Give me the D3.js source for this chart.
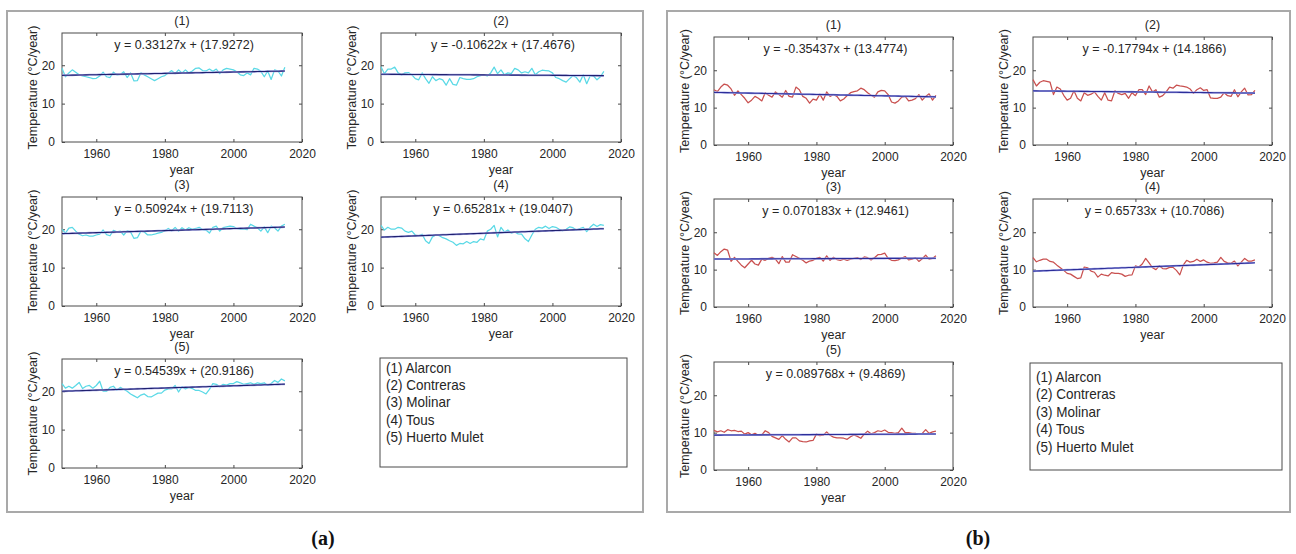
<!DOCTYPE html>
<html>
<head>
<meta charset="utf-8">
<script src="https://cdn.jsdelivr.net/npm/d3@7"></script>
<style>
  html, body { margin: 0; padding: 0; background: #fff; }
  svg { display: block; }
  text { font-family: "Liberation Sans", Arial, sans-serif; fill: #262626; }
</style>
</head>
<body>
<svg id="chart" width="1296" height="554"></svg>
<script>
// Annual temperature series 1950-2015 for five stations, two panels.
const firstYear = 1950;
const lastYear = 2015;
const stations = ["Alarcon", "Contreras", "Molinar", "Tous", "Huerto Mulet"];
const xTicks = [1960, 1980, 2000, 2020];
const yTicks = [0, 10, 20];

// Panel (a)
const aAlarcon = [19.2,17.0,18.0,18.8,18.2,17.5,17.2,17.0,16.8,16.5,16.6,17.2,18.2,17.0,16.8,18.2,17.5,17.6,18.3,16.8,18.0,15.9,16.0,18.0,17.5,17.0,16.5,16.0,16.5,17.0,17.3,18.0,18.6,17.8,18.8,18.0,18.8,18.0,18.5,19.2,19.3,18.6,18.5,19.0,18.4,19.0,17.8,18.8,19.2,19.0,18.8,18.3,17.5,17.3,18.0,17.5,19.2,19.0,18.4,17.0,18.5,16.3,18.8,18.5,17.2,19.5];
const aContreras = [19.6,17.8,19.0,19.0,19.5,18.0,17.5,18.0,18.1,17.5,16.5,16.2,18.0,16.5,15.3,17.0,16.0,16.5,16.2,14.8,16.5,15.0,14.8,16.8,16.5,16.3,16.3,16.5,17.0,17.3,17.5,17.2,18.0,19.5,17.8,18.8,17.5,18.0,17.8,19.2,18.8,18.0,18.3,18.0,19.2,17.5,18.3,18.7,18.6,18.5,18.0,16.8,16.5,16.0,15.6,16.5,17.3,16.8,15.6,17.5,15.2,17.2,17.2,16.2,17.0,18.4];
const aMolinar = [20.0,19.0,20.3,20.5,19.5,18.7,18.3,18.5,18.2,18.2,18.5,18.7,19.8,18.6,18.3,19.7,19.3,19.5,18.5,19.6,19.3,17.6,17.8,19.5,19.3,18.5,18.5,18.7,19.0,19.2,19.6,20.2,19.6,20.5,19.5,20.4,19.8,20.4,20.0,20.2,20.5,19.9,19.8,19.0,20.5,20.8,19.5,20.4,20.6,20.8,20.7,20.2,20.0,20.1,19.9,21.3,20.8,20.4,19.5,20.6,19.1,20.8,20.4,19.5,20.8,21.3];
const aTous = [21.0,19.8,20.5,20.0,20.0,20.5,20.3,19.5,19.2,19.5,18.5,18.3,18.7,17.0,16.3,18.0,18.5,18.3,17.8,17.5,17.0,16.6,15.8,16.3,16.2,16.8,16.3,16.8,16.6,17.5,17.2,19.5,20.0,21.0,18.0,20.5,19.3,19.8,19.0,19.3,18.8,18.7,17.5,16.8,18.5,20.0,20.5,20.3,20.8,20.2,20.7,20.5,20.0,19.6,20.0,20.6,20.4,19.8,20.2,20.5,19.4,20.5,21.3,20.7,21.2,21.0];
const aHuertoMulet = [22.0,20.8,21.3,20.8,21.5,22.3,20.7,21.3,21.5,20.8,21.5,22.6,20.0,20.0,21.0,21.3,20.3,21.0,20.5,20.0,19.3,18.8,18.3,19.0,19.3,18.6,18.5,19.0,19.5,19.5,20.3,20.6,20.6,21.5,19.8,21.2,20.6,21.0,20.7,20.2,20.2,19.8,19.3,20.5,22.0,21.8,21.2,21.8,21.6,22.0,22.0,22.5,22.2,21.8,22.0,22.2,21.8,22.2,22.0,22.2,21.5,22.0,22.8,22.3,23.2,22.7];
const aSlopes = [0.33127, -0.10622, 0.50924, 0.65281, 0.54539];
const aIntercepts = [17.9272, 17.4676, 19.7113, 19.0407, 20.9186];

// Panel (b)
const bAlarcon = [14.8,14.3,15.5,16.3,16.0,15.0,13.3,14.5,13.5,12.5,11.3,12.0,13.0,12.5,11.8,14.0,13.3,12.8,14.2,13.5,12.8,14.6,13.0,12.8,15.5,14.8,13.0,12.5,11.2,12.3,12.0,13.6,12.0,14.2,13.0,13.5,13.0,11.8,12.3,13.2,14.0,14.3,14.5,15.2,14.8,14.0,13.3,12.8,14.2,14.6,14.5,13.5,11.5,11.2,11.8,12.8,13.0,11.8,12.0,12.4,13.5,12.0,13.0,13.7,12.0,13.3];
const bContreras = [17.5,15.8,16.8,17.2,17.0,16.8,13.5,15.5,15.0,13.3,12.0,12.5,14.5,12.5,11.8,14.0,13.3,13.6,14.2,13.0,12.0,14.0,12.0,11.8,14.5,13.8,13.5,13.8,12.5,14.0,13.2,14.8,14.8,13.5,15.8,14.2,14.8,12.8,13.2,14.2,15.5,15.2,16.0,15.8,15.7,15.5,15.0,13.8,14.8,15.3,14.6,14.8,12.6,12.5,12.5,12.8,14.0,13.2,13.0,14.8,12.9,14.2,15.2,13.4,13.5,14.6];
const bMolinar = [14.5,13.8,14.8,15.5,15.2,12.2,13.3,12.2,11.2,10.5,11.5,12.5,11.5,11.2,12.8,12.5,13.0,13.3,12.8,11.6,13.5,12.0,12.0,14.0,13.5,13.0,12.5,11.8,12.3,12.5,13.0,13.3,12.3,13.7,12.5,13.3,12.7,12.5,12.8,12.5,12.8,13.0,13.2,12.7,13.4,13.2,12.6,13.2,14.0,14.1,14.4,13.0,12.5,12.4,12.6,13.1,13.5,12.6,12.8,13.2,12.2,12.9,13.9,12.8,13.0,13.7];
const bTous = [13.2,12.1,12.5,12.8,12.8,12.2,12.0,11.2,10.5,9.8,9.0,8.8,8.2,7.6,7.8,10.7,10.5,9.6,9.3,8.0,8.8,8.5,8.3,9.2,9.0,9.0,8.8,8.2,8.5,8.6,11.0,10.7,11.5,13.0,11.8,10.5,10.0,11.0,10.3,10.2,10.6,10.6,9.8,8.6,11.2,12.5,12.0,12.2,12.8,12.2,12.6,12.0,11.7,11.8,12.0,13.3,12.2,11.8,11.7,12.3,11.0,12.0,13.0,12.3,12.3,12.6];
const bHuertoMulet = [10.6,10.2,10.5,10.1,10.8,10.5,10.6,10.3,10.4,9.6,10.0,9.4,9.8,9.3,9.4,10.5,10.0,9.0,8.6,8.2,9.2,8.2,7.5,8.6,8.6,7.8,7.6,7.5,7.8,7.9,9.6,9.2,9.3,10.2,9.3,8.8,8.6,8.6,8.5,8.2,8.9,9.4,9.0,8.5,9.6,10.4,9.7,10.0,10.5,10.3,10.7,10.1,10.0,9.8,10.0,11.2,10.0,10.0,9.8,9.8,9.5,9.8,10.8,9.8,10.2,10.4];
const bSlopes = [-0.35437, -0.17794, 0.070183, 0.65733, 0.089768];
const bIntercepts = [13.4774, 14.1866, 12.9461, 10.7086, 9.4869];

const years = d3.range(firstYear, lastYear + 1);
const yearMean = d3.mean(years);
const yearStd = d3.deviation(years);

const panels = [
  {
    tag: "(a)", tagX: 323,
    box: [7, 11, 643, 512],
    cols: [62, 381], plotW: 240,
    rows: [33, 197, 359], plotH: 109,
    yMax: 28.4,
    series: [aAlarcon, aContreras, aMolinar, aTous, aHuertoMulet],
    slopes: aSlopes, intercepts: aIntercepts,
    color: "#5ad9e6",
    trendColor: "#202070",
    legend: { x0: 380, y0: 358, x1: 627, y1: 467, tx: 386, ty: 373, step: 17.2 }
  },
  {
    tag: "(b)", tagX: 978,
    box: [667, 11, 1290, 512],
    cols: [714, 1033], plotW: 239,
    rows: [37, 199, 362], plotH: 108,
    yMax: 28.9,
    series: [bAlarcon, bContreras, bMolinar, bTous, bHuertoMulet],
    slopes: bSlopes, intercepts: bIntercepts,
    color: "#c9504f",
    trendColor: "#2c2e9a",
    legend: { x0: 1030, y0: 363, x1: 1282, y1: 470, tx: 1036, ty: 382, step: 17.5 }
  }
];

const svg = d3.select("#chart");

panels.forEach(p => {
  // outer frame of the panel
  svg.append("rect")
    .attr("x", p.box[0]).attr("y", p.box[1])
    .attr("width", p.box[2] - p.box[0]).attr("height", p.box[3] - p.box[1])
    .attr("fill", "none").attr("stroke", "#a9a9a9").attr("stroke-width", 2);

  svg.append("text")
    .attr("x", p.tagX).attr("y", 545)
    .attr("text-anchor", "middle")
    .style("font-family", "'Liberation Serif', 'DejaVu Serif', serif")
    .style("font-weight", "bold").style("font-size", "20px").style("fill", "#111")
    .text(p.tag);

  p.series.forEach((vals, i) => {
    const left = p.cols[i % 2];
    const top = p.rows[Math.floor(i / 2)];
    const x = d3.scaleLinear().domain([1950, 2020]).range([left, left + p.plotW]);
    const y = d3.scaleLinear().domain([0, p.yMax]).range([top + p.plotH, top]);
    const g = svg.append("g");
    const cx = left + p.plotW / 2;

    // axes box
    g.append("rect")
      .attr("x", left).attr("y", top).attr("width", p.plotW).attr("height", p.plotH)
      .attr("fill", "#fff").attr("stroke", "#4a4a4a").attr("stroke-width", 1);

    // inward ticks on all four sides
    const xb = d3.axisBottom(x).tickValues(xTicks).tickSize(-3).tickFormat(d3.format("d")).tickPadding(7);
    const xt = d3.axisTop(x).tickValues(xTicks).tickSize(-3).tickFormat("");
    const yl = d3.axisLeft(y).tickValues(yTicks).tickSize(-3).tickPadding(7);
    const yr = d3.axisRight(y).tickValues(yTicks).tickSize(-3).tickFormat("");
    [[xb, `translate(0,${top + p.plotH})`], [xt, `translate(0,${top})`],
     [yl, `translate(${left},0)`], [yr, `translate(${left + p.plotW},0)`]].forEach(([ax, tr]) => {
      const a = g.append("g").attr("transform", tr).call(ax);
      a.select(".domain").remove();
      a.selectAll("line").attr("stroke", "#4a4a4a");
      a.selectAll("text").style("font-size", "12px").style("fill", "#262626")
        .style("font-family", "'Liberation Sans', Arial, sans-serif");
    });

    // series line
    const line = d3.line().x((d, k) => x(years[k])).y(d => y(d));
    g.append("path").datum(vals)
      .attr("fill", "none").attr("stroke", p.color).attr("stroke-width", 1.25)
      .attr("stroke-linejoin", "round").attr("d", line);

    // fitted trend on the standardised year
    const trend = years.map(yr => ({ yr, v: p.slopes[i] * (yr - yearMean) / yearStd + p.intercepts[i] }));
    const tline = d3.line().x(d => x(d.yr)).y(d => y(d.v));
    g.append("path").datum(trend)
      .attr("fill", "none").attr("stroke", "#a7abe8").attr("stroke-width", 2).attr("d", tline);
    g.append("path").datum(trend)
      .attr("fill", "none").attr("stroke", p.trendColor).attr("stroke-width", 1.1).attr("d", tline);

    // title, equation, axis labels
    g.append("text").attr("x", cx).attr("y", top - 8).attr("text-anchor", "middle")
      .style("font-size", "12.5px").text(`(${i + 1})`);
    g.append("text").attr("x", cx + 2).attr("y", top + 16).attr("text-anchor", "middle")
      .style("font-size", "12.5px").text(`y = ${p.slopes[i]}x + (${p.intercepts[i]})`);
    g.append("text").attr("x", cx).attr("y", top + p.plotH + 32).attr("text-anchor", "middle")
      .style("font-size", "12.5px").text("year");
    g.append("text")
      .attr("transform", `translate(${left - 25},${top + p.plotH / 2}) rotate(-90)`)
      .attr("text-anchor", "middle")
      .style("font-size", "12.5px").text("Temperature (°C/year)");
  });

  // station legend
  const L = p.legend;
  svg.append("rect")
    .attr("x", L.x0).attr("y", L.y0).attr("width", L.x1 - L.x0).attr("height", L.y1 - L.y0)
    .attr("fill", "#fff").attr("stroke", "#4a4a4a").attr("stroke-width", 1);
  svg.append("g")
    .attr("transform", `translate(${L.tx},${L.ty}) scale(0.9,1)`)
    .selectAll("text").data(stations).join("text")
    .attr("x", 0).attr("y", (d, k) => k * L.step)
    .style("font-size", "15px")
    .text((d, k) => `(${k + 1}) ${d}`);
});
</script>
</body>
</html>
